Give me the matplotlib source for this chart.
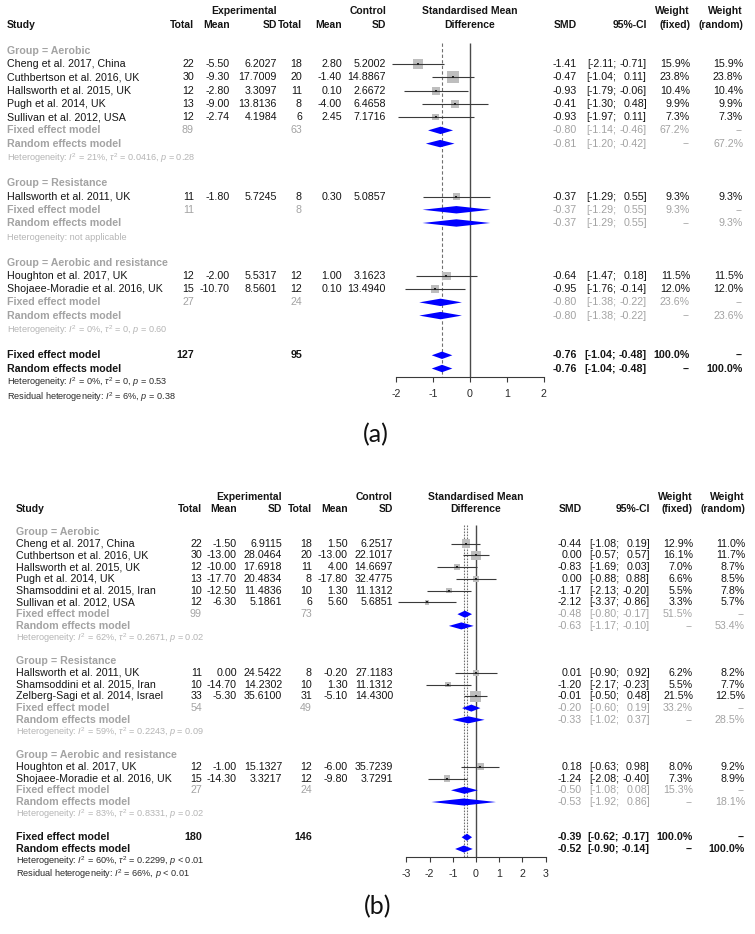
import numpy as np
import matplotlib
matplotlib.use("Agg")
import matplotlib.pyplot as plt
import matplotlib.transforms as mtransforms

plt.rcParams['font.family'] = ['Liberation Sans', 'DejaVu Sans']
plt.rcParams['mathtext.fontset'] = 'custom'
plt.rcParams['mathtext.rm'] = 'Liberation Sans'
plt.rcParams['mathtext.it'] = 'Liberation Sans:italic'
plt.rcParams['mathtext.bf'] = 'Liberation Sans:bold'

# ---------------- data: panel (a) ----------------
a_groups = ["Aerobic", "Resistance", "Aerobic and resistance"]
a_group_of = [0, 0, 0, 0, 0, 1, 2, 2]
a_study = ["Cheng et al. 2017, China", "Cuthbertson et al. 2016, UK",
           "Hallsworth et al. 2015, UK", "Pugh et al. 2014, UK",
           "Sullivan et al. 2012, USA", "Hallsworth et al. 2011, UK",
           "Houghton et al. 2017, UK", "Shojaee-Moradie et al. 2016, UK"]
a_ne = [22, 30, 12, 13, 12, 11, 12, 15]
a_me = [-5.50, -9.30, -2.80, -9.00, -2.74, -1.80, -2.00, -10.70]
a_se = [6.2027, 17.7009, 3.3097, 13.8136, 4.1984, 5.7245, 5.5317, 8.5601]
a_nc = [18, 20, 11, 8, 6, 8, 12, 12]
a_mc = [2.80, -1.40, 0.10, -4.00, 2.45, 0.30, 1.00, 0.10]
a_sc = [5.2002, 14.8867, 2.6672, 6.4658, 7.1716, 5.0857, 3.1623, 13.4940]
a_smd = [-1.41, -0.47, -0.93, -0.41, -0.93, -0.37, -0.64, -0.95]
a_lo = [-2.11, -1.04, -1.79, -1.30, -1.97, -1.29, -1.47, -1.76]
a_hi = [-0.71, 0.11, -0.06, 0.48, 0.11, 0.55, 0.18, -0.14]
a_wf = [15.9, 23.8, 10.4, 9.9, 7.3, 9.3, 11.5, 12.0]
a_wr = [15.9, 23.8, 10.4, 9.9, 7.3, 9.3, 11.5, 12.0]
a_sub_ne = [89, 11, 27]
a_sub_nc = [63, 8, 24]
a_fix = [-0.80, -0.37, -0.80]
a_fix_lo = [-1.14, -1.29, -1.38]
a_fix_hi = [-0.46, 0.55, -0.22]
a_fix_w = [67.2, 9.3, 23.6]
a_ran = [-0.81, -0.37, -0.80]
a_ran_lo = [-1.20, -1.29, -1.38]
a_ran_hi = [-0.42, 0.55, -0.22]
a_ran_w = [67.2, 9.3, 23.6]
a_het = [r"Heterogeneity: $I^2$ = 21%, $\tau^2$ = 0.0416, $p$ = 0.28",
         "Heterogeneity: not applicable",
         r"Heterogeneity: $I^2$ = 0%, $\tau^2$ = 0, $p$ = 0.60"]
a_tot_n = [127, 95]
a_tot_fix = [-0.76, -1.04, -0.48]
a_tot_ran = [-0.76, -1.04, -0.48]
a_tot_het = r"Heterogeneity: $I^2$ = 0%, $\tau^2$ = 0, $p$ = 0.53"
a_resid = r"Residual heterogeneity: $I^2$ = 6%, $p$ = 0.38"
a_ticks = [-2, -1, 0, 1, 2]

# ---------------- data: panel (b) ----------------
b_groups = ["Aerobic", "Resistance", "Aerobic and resistance"]
b_group_of = [0, 0, 0, 0, 0, 0, 1, 1, 1, 2, 2]
b_study = ["Cheng et al. 2017, China", "Cuthbertson et al. 2016, UK",
           "Hallsworth et al. 2015, UK", "Pugh et al. 2014, UK",
           "Shamsoddini et al. 2015, Iran", "Sullivan et al. 2012, USA",
           "Hallsworth et al. 2011, UK", "Shamsoddini et al. 2015, Iran",
           "Zelberg-Sagi et al. 2014, Israel",
           "Houghton et al. 2017, UK", "Shojaee-Moradie et al. 2016, UK"]
b_ne = [22, 30, 12, 13, 10, 12, 11, 10, 33, 12, 15]
b_me = [-1.50, -13.00, -10.00, -17.70, -12.50, -6.30, 0.00, -14.70, -5.30, -1.00, -14.30]
b_se = [6.9115, 28.0464, 17.6918, 20.4834, 11.4836, 5.1861, 24.5422, 14.2302, 35.6100, 15.1327, 3.3217]
b_nc = [18, 20, 11, 8, 10, 6, 8, 10, 31, 12, 12]
b_mc = [1.50, -13.00, 4.00, -17.80, 1.30, 5.60, -0.20, 1.30, -5.10, -6.00, -9.80]
b_sc = [6.2517, 22.1017, 14.6697, 32.4775, 11.1312, 5.6851, 27.1183, 11.1312, 14.4300, 35.7239, 3.7291]
b_smd = [-0.44, 0.00, -0.83, 0.00, -1.17, -2.12, 0.01, -1.20, -0.01, 0.18, -1.24]
b_lo = [-1.08, -0.57, -1.69, -0.88, -2.13, -3.37, -0.90, -2.17, -0.50, -0.63, -2.08]
b_hi = [0.19, 0.57, 0.03, 0.88, -0.20, -0.86, 0.92, -0.23, 0.48, 0.98, -0.40]
b_wf = [12.9, 16.1, 7.0, 6.6, 5.5, 3.3, 6.2, 5.5, 21.5, 8.0, 7.3]
b_wr = [11.0, 11.7, 8.7, 8.5, 7.8, 5.7, 8.2, 7.7, 12.5, 9.2, 8.9]
b_sub_ne = [99, 54, 27]
b_sub_nc = [73, 49, 24]
b_fix = [-0.48, -0.20, -0.50]
b_fix_lo = [-0.80, -0.60, -1.08]
b_fix_hi = [-0.17, 0.19, 0.08]
b_fix_w = [51.5, 33.2, 15.3]
b_ran = [-0.63, -0.33, -0.53]
b_ran_lo = [-1.17, -1.02, -1.92]
b_ran_hi = [-0.10, 0.37, 0.86]
b_ran_w = [53.4, 28.5, 18.1]
b_het = [r"Heterogeneity: $I^2$ = 62%, $\tau^2$ = 0.2671, $p$ = 0.02",
         r"Heterogeneity: $I^2$ = 59%, $\tau^2$ = 0.2243, $p$ = 0.09",
         r"Heterogeneity: $I^2$ = 83%, $\tau^2$ = 0.8331, $p$ = 0.02"]
b_tot_n = [180, 146]
b_tot_fix = [-0.39, -0.62, -0.17]
b_tot_ran = [-0.52, -0.90, -0.14]
b_tot_het = r"Heterogeneity: $I^2$ = 60%, $\tau^2$ = 0.2299, $p$ < 0.01"
b_resid = r"Residual heterogeneity: $I^2$ = 66%, $p$ < 0.01"
b_ticks = [-3, -2, -1, 0, 1, 2, 3]

# ---------------- layout ----------------
W, H = 755, 934
fig = plt.figure(figsize=(W / 100, H / 100), dpi=100)

BLACK = '#151515'
GRAY = '#a3a3a3'
HGRAY = '#b5b5b5'
FS = 7.7
HDR = 7.5
HFS = 6.6


def draw_panel(d, L):
    top, bot, y0, dy, x0, ux = L['top'], L['bot'], L['y0'], L['dy'], L['x0'], L['ux']
    ax = fig.add_axes([0, 1 - bot / H, 1, (bot - top) / H])
    ax.set_xlim((0 - x0) / ux, (W - x0) / ux)
    ax.set_ylim((bot - y0) / dy, (top - y0) / dy)
    ax.patch.set_visible(False)
    for s in ['top', 'left', 'right']:
        ax.spines[s].set_visible(False)
    ax.set_yticks([])
    tr = mtransforms.blended_transform_factory(fig.transFigure, ax.transData)
    C = L['cols']

    def t(px, row, s, ha='right', color=BLACK, bold=False, fs=FS, va='center'):
        ax.text(px / W, row, s, transform=tr, ha=ha, va=va, color=color,
                fontsize=fs, fontweight='bold' if bold else 'normal')

    # header
    t(C['study'], -2, "Study", ha='left', bold=True, fs=HDR)
    t(C['esd'], -3, "Experimental", bold=True, fs=HDR)
    t(C['ent'], -2, "Total", bold=True, fs=HDR)
    t(C['em'], -2, "Mean", bold=True, fs=HDR)
    t(C['esd'], -2, "SD", bold=True, fs=HDR)
    t(C['csd'], -3, "Control", bold=True, fs=HDR)
    t(C['cnt'], -2, "Total", bold=True, fs=HDR)
    t(C['cm'], -2, "Mean", bold=True, fs=HDR)
    t(C['csd'], -2, "SD", bold=True, fs=HDR)
    t(x0, -3, "Standardised Mean", ha='center', bold=True, fs=HDR)
    t(x0, -2, "Difference", ha='center', bold=True, fs=HDR)
    t(C['smd'], -2, "SMD", bold=True, fs=HDR)
    t(C['cihi'], -2, "95%-CI", bold=True, fs=HDR)
    t(C['wf'], -3, "Weight", bold=True, fs=HDR)
    t(C['wf'], -2, "(fixed)", bold=True, fs=HDR)
    t(C['wr'], -3, "Weight", bold=True, fs=HDR)
    t(C['wr'], -2, "(random)", bold=True, fs=HDR)

    def summary_row(row, est, lo, hi, wf, wr, color, bold, label):
        t(C['study'], row, label, ha='left', color=color, bold=True)
        t(C['smd'], row, f"{est:.2f}", color=color, bold=bold)
        t(C['cilo'], row, f"[{lo:.2f};", color=color, bold=bold)
        t(C['cihi'], row, f"{hi:.2f}]", color=color, bold=bold)
        t(C['wf'], row, wf, color=color, bold=bold)
        t(C['wr'], row, wr, color=color, bold=bold)
        h = L['dh']
        ax.fill([lo, est, hi, est], [row, row - h, row, row + h],
                color='#0000ff', lw=0, zorder=6)

    wmax = max(d['wf'])
    row = 0
    study_rows = []
    for g, gname in enumerate(d['groups']):
        t(C['study'], row, f"Group = {gname}", ha='left', color=GRAY, bold=True)
        row += 1
        for i, gi in enumerate(d['group_of']):
            if gi != g:
                continue
            t(C['study'], row, d['study'][i], ha='left')
            t(C['ent'], row, f"{d['ne'][i]}")
            t(C['em'], row, f"{d['me'][i]:.2f}")
            t(C['esd'], row, f"{d['se'][i]:.4f}")
            t(C['cnt'], row, f"{d['nc'][i]}")
            t(C['cm'], row, f"{d['mc'][i]:.2f}")
            t(C['csd'], row, f"{d['sc'][i]:.4f}")
            t(C['smd'], row, f"{d['smd'][i]:.2f}")
            t(C['cilo'], row, f"[{d['lo'][i]:.2f};")
            t(C['cihi'], row, f"{d['hi'][i]:.2f}]")
            t(C['wf'], row, f"{d['wf'][i]:.1f}%")
            t(C['wr'], row, f"{d['wr'][i]:.1f}%")
            study_rows.append(row)
            row += 1
        t(C['ent'], row, f"{d['sub_ne'][g]}", color=GRAY)
        t(C['cnt'], row, f"{d['sub_nc'][g]}", color=GRAY)
        summary_row(row, d['fix'][g], d['fix_lo'][g], d['fix_hi'][g],
                    f"{d['fix_w'][g]:.1f}%", "--", GRAY, False, "Fixed effect model")
        row += 1
        summary_row(row, d['ran'][g], d['ran_lo'][g], d['ran_hi'][g],
                    "--", f"{d['ran_w'][g]:.1f}%", GRAY, False, "Random effects model")
        row += 1
        t(C['study'], row + 0.3, d['het'][g], ha='left', color=HGRAY, fs=HFS, va='baseline')
        row += 2
    t(C['ent'], row, f"{d['tot_n'][0]}", bold=True)
    t(C['cnt'], row, f"{d['tot_n'][1]}", bold=True)
    summary_row(row, *d['tot_fix'], "100.0%", "--", BLACK, True, "Fixed effect model")
    row += 1
    summary_row(row, *d['tot_ran'], "--", "100.0%", BLACK, True, "Random effects model")
    row += 1
    t(C['study'], row + 0.25, d['tot_het'], ha='left', color='#2a2a2a', fs=HFS, va='baseline')
    t(C['study'], row + 1.4, d['resid'], ha='left', color='#2a2a2a', fs=HFS, va='baseline')

    # forest marks
    rows = np.array(study_rows, dtype=float)
    side_pt = L['sq'] * np.sqrt(np.array(d['wf']) / wmax) * 0.72
    ax.scatter(d['smd'], rows, s=side_pt ** 2, marker='s', color='#bebebe',
               linewidths=0, zorder=3)
    ax.hlines(rows, d['lo'], d['hi'], color='#3a3a3a', lw=0.8, zorder=4)
    ax.scatter(d['smd'], rows, s=2.5, marker='s', color='#222222', linewidths=0, zorder=5)

    ax.vlines(0, L['vtop'], L['axis_row'], color='#4a4a4a', lw=1.0, zorder=2)
    refs = sorted(set([d['tot_fix'][0], d['tot_ran'][0]]))
    for r in refs:
        ax.vlines(r, L['vtop'], L['axis_row'], color='#707070', lw=0.8,
                  linestyles=(0, (3, 2)) if len(refs) == 1 else (0, (1.5, 1.2)), zorder=2)

    ax.spines['bottom'].set_position(('data', L['axis_row']))
    ax.spines['bottom'].set_bounds(d['ticks'][0], d['ticks'][-1])
    ax.spines['bottom'].set_color('#3a3a3a')
    ax.spines['bottom'].set_linewidth(0.8)
    ax.set_xticks(d['ticks'])
    ax.set_xticklabels([f"{v}" for v in d['ticks']])
    ax.tick_params(axis='x', direction='out', length=3.8, width=0.8, color='#3a3a3a',
                   labelsize=FS, labelcolor='#2a2a2a', pad=5)

    fig.text(L['lab_x'] / W, 1 - L['lab_y'] / H, L['label'], ha='center', va='center',
             fontsize=18, family=['Lato', 'DejaVu Sans'], color='#111111')


da = dict(groups=a_groups, group_of=a_group_of, study=a_study, ne=a_ne, me=a_me, se=a_se,
          nc=a_nc, mc=a_mc, sc=a_sc, smd=a_smd, lo=a_lo, hi=a_hi, wf=a_wf, wr=a_wr,
          sub_ne=a_sub_ne, sub_nc=a_sub_nc, fix=a_fix, fix_lo=a_fix_lo, fix_hi=a_fix_hi,
          fix_w=a_fix_w, ran=a_ran, ran_lo=a_ran_lo, ran_hi=a_ran_hi, ran_w=a_ran_w,
          het=a_het, tot_n=a_tot_n, tot_fix=a_tot_fix, tot_ran=a_tot_ran,
          tot_het=a_tot_het, resid=a_resid, ticks=a_ticks)
db = dict(groups=b_groups, group_of=b_group_of, study=b_study, ne=b_ne, me=b_me, se=b_se,
          nc=b_nc, mc=b_mc, sc=b_sc, smd=b_smd, lo=b_lo, hi=b_hi, wf=b_wf, wr=b_wr,
          sub_ne=b_sub_ne, sub_nc=b_sub_nc, fix=b_fix, fix_lo=b_fix_lo, fix_hi=b_fix_hi,
          fix_w=b_fix_w, ran=b_ran, ran_lo=b_ran_lo, ran_hi=b_ran_hi, ran_w=b_ran_w,
          het=b_het, tot_n=b_tot_n, tot_fix=b_tot_fix, tot_ran=b_tot_ran,
          tot_het=b_tot_het, resid=b_resid, ticks=b_ticks)

La = dict(top=0, bot=467, y0=51, dy=13.23, x0=470, ux=36.8, dh=0.28, vtop=-0.6, sq=12,
          axis_row=24.64, label="(a)", lab_x=376, lab_y=435,
          cols=dict(study=7, ent=194, em=230, esd=277, cnt=302, cm=342, csd=386,
                    smd=577, cilo=616, cihi=647, wf=690, wr=743))
Lb = dict(top=467, bot=934, y0=532, dy=11.74, x0=476, ux=23.2, dh=0.3, vtop=-0.6, sq=11,
          axis_row=27.68, label="(b)", lab_x=378, lab_y=907,
          cols=dict(study=16, ent=202, em=237, esd=282, cnt=312, cm=348, csd=393,
                    smd=582, cilo=619, cihi=650, wf=693, wr=745))

draw_panel(da, La)
draw_panel(db, Lb)

fig.savefig("out.png", dpi=100, facecolor='white')
